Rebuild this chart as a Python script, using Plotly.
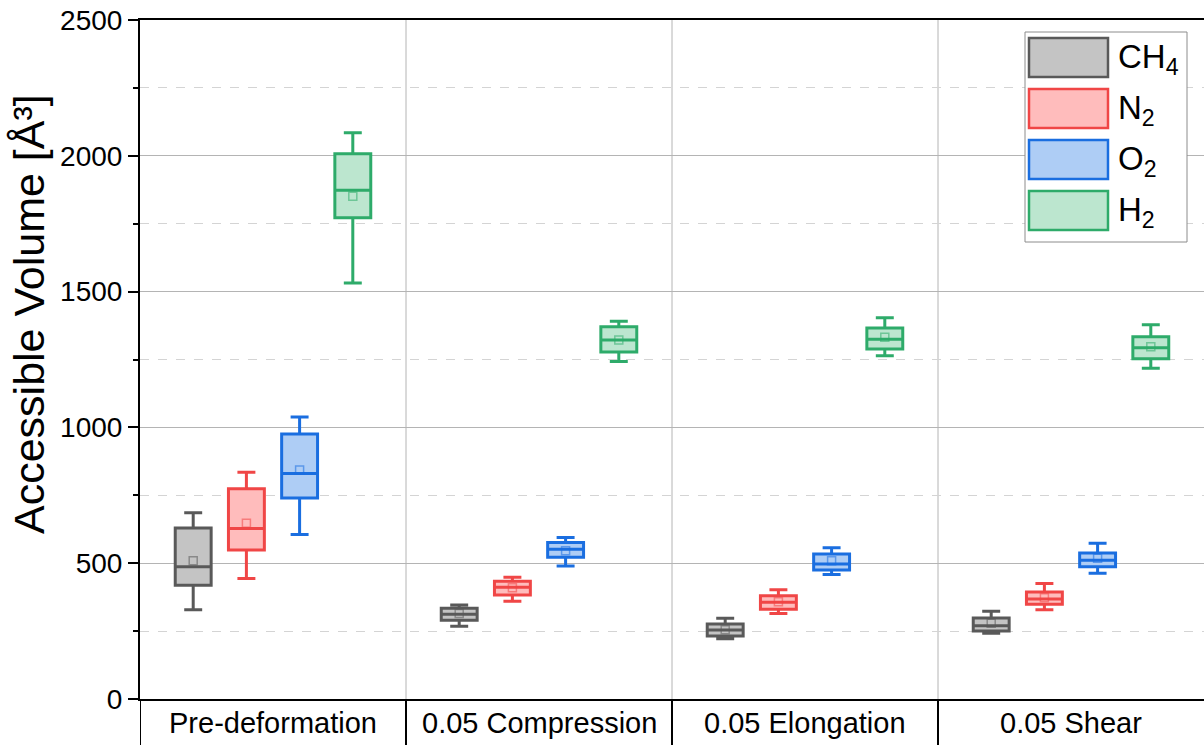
import plotly.graph_objects as go

# ---------------- data ----------------
conditions = ["Pre-deformation", "0.05 Compression", "0.05 Elongation", "0.05 Shear"]
gases = ["CH4", "N2", "O2", "H2"]
gas_labels = ["CH<sub>4</sub>", "N<sub>2</sub>", "O<sub>2</sub>", "H<sub>2</sub>"]

ch4_low = [329, 268, 222, 242]
ch4_q1 = [419, 290, 232, 250]
ch4_med = [487, 312, 254, 270]
ch4_q3 = [630, 334, 276, 298]
ch4_high = [686, 346, 297, 323]
ch4_mean = [509, 315, 255, 279]

n2_low = [444, 360, 315, 329]
n2_q1 = [549, 383, 330, 349]
n2_med = [628, 411, 356, 368]
n2_q3 = [774, 434, 380, 394]
n2_high = [835, 448, 402, 425]
n2_mean = [647, 410, 358, 373]

o2_low = [606, 490, 458, 463]
o2_q1 = [740, 522, 475, 487]
o2_med = [830, 551, 497, 511]
o2_q3 = [976, 576, 534, 538]
o2_high = [1038, 595, 557, 573]
o2_mean = [843, 546, 509, 518]

h2_low = [1532, 1243, 1264, 1218]
h2_q1 = [1772, 1278, 1289, 1253]
h2_med = [1873, 1322, 1325, 1293]
h2_q3 = [2008, 1371, 1366, 1334]
h2_high = [2085, 1391, 1404, 1378]
h2_mean = [1851, 1322, 1332, 1297]

y_ticks = [0, 500, 1000, 1500, 2000, 2500]
y_title = "Accessible Volume [Å³]"

# ---------------- styles ----------------
line_colors = ["#595959", "#f04646", "#1a6ee0", "#2eab6a"]
fill_colors = ["#c4c4c4", "#ffbcbc", "#aecdf5", "#bce6cf"]
mean_colors = ["rgba(89,89,89,0.55)", "rgba(240,70,70,0.55)", "rgba(26,110,224,0.55)", "rgba(46,171,106,0.55)"]
FONT = "Liberation Sans, Arial, sans-serif"

stats = [
    (ch4_low, ch4_q1, ch4_med, ch4_q3, ch4_high, ch4_mean),
    (n2_low, n2_q1, n2_med, n2_q3, n2_high, n2_mean),
    (o2_low, o2_q1, o2_med, o2_q3, o2_high, o2_mean),
    (h2_low, h2_q1, h2_med, h2_q3, h2_high, h2_mean),
]

W, H = 1204, 745
ML, MR, MT, MB = 140, 0, 20, 46
PW, PH = W - ML - MR, H - MT - MB


def px(xp):
    return (xp - ML) / PW


def py(yp):
    return (H - MB - yp) / PH


fig = go.Figure()
spacing = 0.2
for k, gas in enumerate(gases):
    lo, q1, med, q3, hi, mn = stats[k]
    xs = [i + (k - 1.5) * spacing for i in range(len(conditions))]
    fig.add_trace(go.Box(
        x=xs, q1=q1, median=med, q3=q3, lowerfence=lo, upperfence=hi,
        name=gas, width=0.135, whiskerwidth=0.5,
        line=dict(color=line_colors[k], width=3),
        fillcolor=fill_colors[k], boxpoints=False, showlegend=False,
    ))
    fig.add_trace(go.Scatter(
        x=xs, y=mn, mode="markers", showlegend=False,
        marker=dict(symbol="square-open", size=8, color=mean_colors[k],
                    line=dict(width=1.5, color=mean_colors[k])),
    ))

shapes = []
# vertical separators inside the plot
for xv in [0.5, 1.5, 2.5]:
    shapes.append(dict(type="line", xref="x", yref="paper", x0=xv, x1=xv, y0=0, y1=1,
                       line=dict(color="#b4b4b4", width=1), layer="below"))
# category label cells below the axis
for xv in [-0.5, 0.5, 1.5, 2.5]:
    shapes.append(dict(type="line", xref="x", yref="paper", x0=xv, x1=xv, y0=0, y1=py(H),
                       line=dict(color="black", width=2)))

annotations = []
for i, c in enumerate(conditions):
    annotations.append(dict(x=i, y=py(723), xref="x", yref="paper", text=c, showarrow=False,
                            xanchor="center", yanchor="middle",
                            font=dict(size=29, color="black", family=FONT)))

# y-axis title
annotations.append(dict(x=px(29), y=py(314), xref="paper", yref="paper", text=y_title,
                        showarrow=False, textangle=-90, xanchor="center", yanchor="middle",
                        font=dict(size=43, color="black", family=FONT)))

# custom legend
shapes.append(dict(type="rect", xref="paper", yref="paper", x0=px(1025), x1=px(1187),
                   y0=py(242), y1=py(32), line=dict(color="#8c8c8c", width=1),
                   fillcolor="white"))
for k in range(len(gases)):
    top = 38 + k * 51
    shapes.append(dict(type="rect", xref="paper", yref="paper", x0=px(1029), x1=px(1108),
                       y0=py(top + 39), y1=py(top), line=dict(color=line_colors[k], width=2.5),
                       fillcolor=fill_colors[k]))
    annotations.append(dict(x=px(1116), y=py(top + 21), xref="paper", yref="paper",
                            text=gas_labels[k], showarrow=False, xanchor="left",
                            yanchor="middle", font=dict(size=33, color="black", family=FONT)))

fig.update_layout(
    width=W, height=H,
    margin=dict(l=ML, r=MR, t=MT, b=MB, autoexpand=False),
    paper_bgcolor="white", plot_bgcolor="white",
    font=dict(family=FONT, color="black"),
    boxmode="overlay",
    shapes=shapes, annotations=annotations,
    xaxis=dict(range=[-0.5, 3.5], showticklabels=False, showgrid=False, zeroline=False,
               showline=True, mirror=True, linecolor="black", linewidth=2, ticks="",
               automargin=False),
    yaxis=dict(range=[0, 2500], tickvals=y_ticks, ticktext=[str(t) for t in y_ticks],
               showgrid=True, gridcolor="#b4b4b4", gridwidth=1, zeroline=False,
               showline=True, linecolor="black", linewidth=2,
               ticks="outside", ticklen=10, tickwidth=2, tickcolor="black",
               tickfont=dict(size=28, family=FONT, color="black"),
               minor=dict(dtick=250, ticks="outside", ticklen=5, tickwidth=2, tickcolor="black",
                          showgrid=True, gridcolor="#d4d4d4", griddash="dash", gridwidth=1),
               automargin=False),
)

fig.write_html(
    "out.html",
    config={"displayModeBar": False},
    post_script="document.body.style.margin='0';document.body.style.padding='0';"
                "document.body.style.overflow='hidden';",
)
